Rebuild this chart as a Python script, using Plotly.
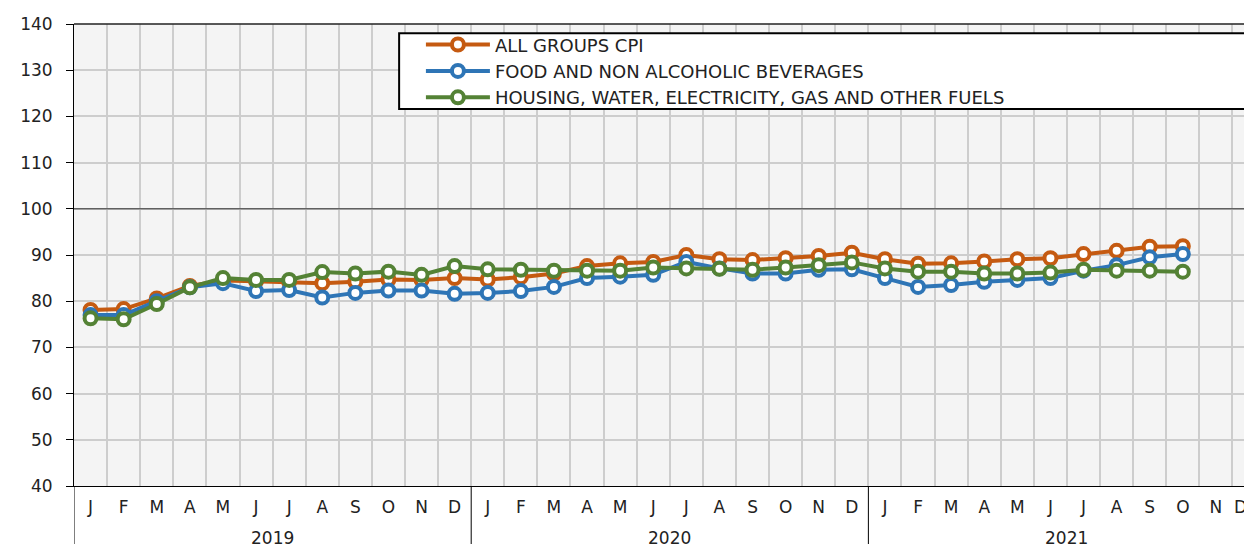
import plotly.graph_objects as go

months = ["J", "F", "M", "A", "M", "J", "J", "A", "S", "O", "N", "D"] * 3
years = ["2019", "2020", "2021"]

cpi = [78.1, 78.3, 80.6, 83.3, 84.5, 84.3, 84.2, 83.9, 84.2, 84.7, 84.6, 85.0,
       84.7, 85.2, 86.0, 87.6, 88.2, 88.5, 90.0, 89.1, 88.9, 89.3, 89.8, 90.5,
       89.1, 88.1, 88.2, 88.6, 89.1, 89.3, 90.2, 90.9, 91.8, 91.9]
food = [77.0, 77.0, 80.0, 83.0, 83.9, 82.2, 82.4, 80.8, 81.8, 82.3, 82.3, 81.6,
        81.8, 82.2, 83.1, 85.0, 85.3, 85.7, 88.5, 87.1, 86.0, 86.0, 86.8, 86.9,
        85.0, 83.1, 83.5, 84.2, 84.6, 85.0, 86.6, 87.8, 89.5, 90.2]
housing = [76.3, 76.1, 79.4, 83.0, 85.0, 84.6, 84.6, 86.3, 86.0, 86.4, 85.7, 87.6,
           86.9, 86.8, 86.6, 86.6, 86.6, 87.3, 87.1, 87.0, 86.8, 87.3, 87.8, 88.4,
           87.1, 86.4, 86.4, 86.0, 86.0, 86.2, 86.8, 86.6, 86.6, 86.4]

series = [
    ("ALL GROUPS CPI", cpi, "#C55A11"),
    ("FOOD AND NON ALCOHOLIC BEVERAGES", food, "#2E75B6"),
    ("HOUSING, WATER, ELECTRICITY, GAS AND OTHER FUELS", housing, "#548235"),
]

FONT = "DejaVu Sans"
xs = list(range(len(months)))
XMIN, XMAX = -0.5, 35.09

fig = go.Figure()
for name, vals, col in series:
    fig.add_trace(go.Scatter(
        x=xs[:len(vals)], y=vals, name=name, mode="lines+markers",
        line=dict(color=col, width=4),
        marker=dict(symbol="circle", size=12, color="white",
                    line=dict(color=col, width=4)),
    ))

boundaries = [i + 0.5 for i in range(len(months) - 1)]

# page has an 8px body margin, so the figure is sized/margined to compensate
fig.update_layout(
    width=1244, height=536,
    margin=dict(l=66, r=0, t=16, b=58, autoexpand=False),
    paper_bgcolor="white",
    plot_bgcolor="#f4f4f4",
    font=dict(family=FONT, size=17, color="#222222"),
    showlegend=True,
    legend=dict(
        x=0.2945, y=0.995, xanchor="left", yanchor="top",
        bgcolor="rgba(0,0,0,0)", borderwidth=0,
        font=dict(family=FONT, size=18, color="#222222"),
        itemwidth=64, tracegroupgap=0,
    ),
    xaxis=dict(
        range=[XMIN, XMAX], automargin=False,
        tickmode="array", tickvals=xs, ticktext=months,
        showgrid=False, zeroline=False,
        showline=True, linecolor="black", linewidth=1,
        ticks="", ticklabelstandoff=6,
        tickfont=dict(family=FONT, size=17, color="#222222"),
        minor=dict(tickmode="array", tickvals=boundaries, showgrid=True,
                   gridcolor="#cdcdcd", gridwidth=2, ticks=""),
    ),
    yaxis=dict(
        range=[40, 140], dtick=10, tick0=40, automargin=False,
        showgrid=True, gridcolor="#cdcdcd", gridwidth=2,
        zeroline=False,
        showline=True, linecolor="black", linewidth=1, mirror=False,
        ticks="outside", ticklen=7, tickcolor="black", tickwidth=1,
        ticklabelstandoff=10,
        tickfont=dict(family=FONT, size=17, color="#222222"),
    ),
)

# last month label, partly beyond the visible range (as in the original)
last_i = len(months) - 1
fig.add_annotation(x=(last_i - XMIN) / (XMAX - XMIN), xref="paper",
                   y=0, yref="paper", yanchor="top", yshift=-9,
                   text=months[last_i], showarrow=False,
                   font=dict(family=FONT, size=17, color="#222222"))

# legend frame
fig.add_shape(type="rect", xref="paper", yref="paper", layer="above",
              x0=0.276, x1=0.998, y0=0.816, y1=0.980,
              fillcolor="white", line=dict(color="black", width=2))

# top border and 100 reference line
fig.add_shape(type="line", xref="paper", yref="paper", x0=0, x1=1, y0=1, y1=1,
              line=dict(color="#222222", width=1.5))
fig.add_shape(type="line", xref="paper", yref="y", x0=0, x1=1, y0=100, y1=100,
              line=dict(color="#333333", width=1))

# year separators and labels
for k, yr in enumerate(years):
    sep = k * 12 - 0.5
    fig.add_shape(type="line", xref="x", yref="paper", x0=sep, x1=sep,
                  y0=0, y1=-0.14, line=dict(color="black", width=1))
    fig.add_annotation(x=k * 12 + 5.5, y=-0.112, xref="x", yref="paper",
                       text=yr, showarrow=False, yanchor="middle",
                       font=dict(family=FONT, size=17, color="#222222"))

fig.write_html("out.html")
